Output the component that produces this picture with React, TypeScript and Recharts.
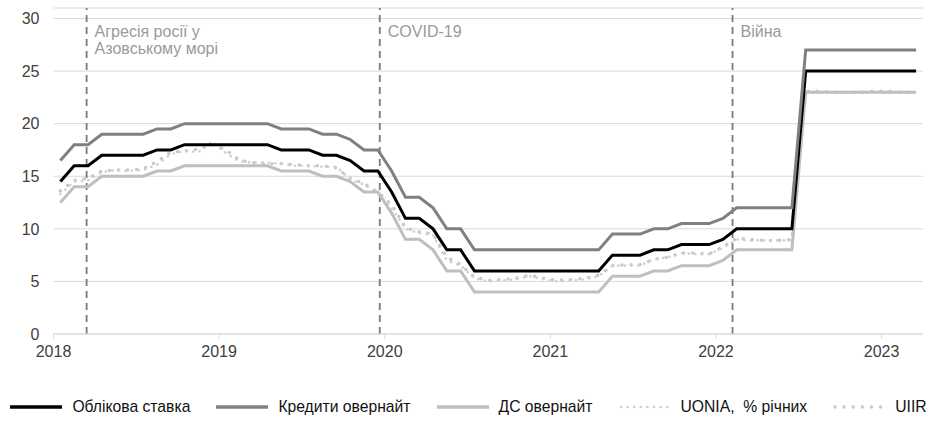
import React from 'react';
import { LineChart, Line, XAxis, YAxis, CartesianGrid, ReferenceLine, Legend } from 'recharts';

// Monthly data, Jan 2018 .. Mar 2023
const startYear = 2018;
const keyRate = [
  14.5, 16, 16, 17, 17, 17, 17, 17.5, 17.5, 18,
  18, 18, 18, 18, 18, 18, 17.5, 17.5, 17.5, 17,
  17, 16.5, 15.5, 15.5, 13.5, 11, 11, 10, 8, 8,
  6, 6, 6, 6, 6, 6, 6, 6, 6, 6,
  7.5, 7.5, 7.5, 8, 8, 8.5, 8.5, 8.5, 9, 10,
  10, 10, 10, 10,
  25, 25, 25, 25, 25, 25, 25, 25, 25,
];
const loanOvernight = [
  16.5, 18, 18, 19, 19, 19, 19, 19.5, 19.5, 20,
  20, 20, 20, 20, 20, 20, 19.5, 19.5, 19.5, 19,
  19, 18.5, 17.5, 17.5, 15.5, 13, 13, 12, 10, 10,
  8, 8, 8, 8, 8, 8, 8, 8, 8, 8,
  9.5, 9.5, 9.5, 10, 10, 10.5, 10.5, 10.5, 11, 12,
  12, 12, 12, 12,
  27, 27, 27, 27, 27, 27, 27, 27, 27,
];
const depositOvernight = [
  12.5, 14, 14, 15, 15, 15, 15, 15.5, 15.5, 16,
  16, 16, 16, 16, 16, 16, 15.5, 15.5, 15.5, 15,
  15, 14.5, 13.5, 13.5, 11.5, 9, 9, 8, 6, 6,
  4, 4, 4, 4, 4, 4, 4, 4, 4, 4,
  5.5, 5.5, 5.5, 6, 6, 6.5, 6.5, 6.5, 7, 8,
  8, 8, 8, 8,
  23, 23, 23, 23, 23, 23, 23, 23, 23,
];
const uonia = [
  13.3, 14.5, 14.6, 15.4, 15.6, 15.5, 15.6, 16.1, 17.1, 17.4,
  17.3, 18.3, 17.2, 16.4, 16.3, 16.3, 16.2, 16.0, 16.0, 15.9,
  15.9, 14.7, 14.2, 13.4, 12.0, 10.0, 9.6, 9.4, 7.0, 6.5,
  5.3, 5.0, 5.1, 5.2, 5.5, 5.2, 5.0, 5.1, 5.2, 5.5,
  6.5, 6.5, 6.5, 7.1, 7.3, 7.7, 7.6, 7.6, 8.2, 9.0,
  8.9, 8.9, 8.9, 8.9,
  23.0, 23.0, 23.0, 23.0, 23.0, 23.0, 23.0, 23.0, 23.0,
];
const uiir = [
  13.6, 14.6, 14.8, 15.5, 15.6, 15.6, 15.7, 16.4, 17.3, 17.4,
  17.6, 18.0, 17.5, 16.5, 16.3, 16.2, 16.2, 16.1, 16.0, 16.0,
  15.8, 14.8, 14.3, 13.5, 12.3, 10.1, 9.7, 9.5, 7.3, 6.6,
  5.4, 5.1, 5.2, 5.3, 5.6, 5.3, 5.1, 5.2, 5.3, 5.6,
  6.5, 6.6, 6.6, 7.1, 7.3, 7.7, 7.7, 7.6, 8.3, 9.1,
  9.0, 8.9, 8.9, 9.0,
  23.1, 23.1, 23.0, 23.0, 23.0, 23.1, 23.1, 23.0, 23.0,
];

const yearTicks = [2018, 2019, 2020, 2021, 2022, 2023];
const valueTicks = [0, 5, 10, 15, 20, 25, 30];
const eventDates = [2018.2, 2019.97, 2022.1];
const eventLabels = [['Агресія росії у', 'Азовському морі'], ['COVID-19'], ['Війна']];

const seriesNames = {
  key: 'Облікова ставка',
  loan: 'Кредити овернайт',
  dep: 'ДС овернайт',
  uonia: 'UONIA,  % річних',
  uiir: 'UIIR',
};

const data = keyRate.map((v, i) => ({
  t: startYear + (i + 0.5) / 12,
  key: v,
  loan: loanOvernight[i],
  dep: depositOvernight[i],
  uonia: uonia[i],
  uiir: uiir[i],
}));

const FONT = '"Liberation Sans", Arial, sans-serif';

const styles: Record<string, { stroke: string; width: number; dash?: string; cap?: 'round' | 'butt' }> = {
  key: { stroke: '#000000', width: 3 },
  loan: { stroke: '#808080', width: 3 },
  dep: { stroke: '#bfbfbf', width: 3 },
  uonia: { stroke: '#cfcfcf', width: 2.6, dash: '0.1 6.5', cap: 'round' },
  uiir: { stroke: '#c9c9c9', width: 3.4, dash: '0.1 9', cap: 'round' },
};

const legendOrder = ['key', 'loan', 'dep', 'uonia', 'uiir'];

const renderLegend = () => (
  <div
    style={{
      display: 'flex',
      justifyContent: 'center',
      alignItems: 'center',
      height: 20,
      fontSize: 15.7,
      color: '#111',
      fontFamily: FONT,
    }}
  >
    {legendOrder.map((k, idx) => {
      const s = styles[k];
      return (
        <div key={k} style={{ display: 'flex', alignItems: 'center', marginLeft: idx ? 26 : 0 }}>
          <svg width={52} height={10}>
            <line
              x1={s.cap === 'round' ? 2 : 0}
              y1={5}
              x2={s.cap === 'round' ? 50 : 52}
              y2={5}
              stroke={s.stroke}
              strokeWidth={s.width + (s.cap ? 0 : 0.5)}
              strokeDasharray={s.dash}
              strokeLinecap={s.cap || 'butt'}
            />
          </svg>
          <span style={{ marginLeft: 10, whiteSpace: 'pre' }}>{(seriesNames as any)[k]}</span>
        </div>
      );
    })}
  </div>
);

const makeLabel = (lines: string[]) => (props: any) => {
  const vb = props.viewBox || {};
  const x = (vb.x || 0) + 8;
  const y = (vb.y || 0) + 29;
  return (
    <text x={x} y={y} fill="#9a9a9a" fontSize={16} fontFamily={FONT}>
      {lines.map((l, i) => (
        <tspan key={i} x={x} dy={i ? 17 : 0}>
          {l}
        </tspan>
      ))}
    </text>
  );
};

export default function App() {
  return (
    <div style={{ position: 'absolute', left: 0, top: 0, width: 937, height: 421, fontFamily: FONT, background: '#fff' }}>
      <LineChart width={937} height={421} data={data} margin={{ top: 8, right: 14, left: 0, bottom: 37 }}>
        <CartesianGrid vertical={false} stroke="#d9d9d9" strokeWidth={1} />
        <XAxis
          dataKey="t"
          type="number"
          domain={[2018, 2023.25]}
          ticks={yearTicks}
          allowDataOverflow
          stroke="#d9d9d9"
          tickSize={5}
          tickMargin={7}
          height={30}
          tick={{ fill: '#404040', fontSize: 16, fontFamily: FONT }}
          tickFormatter={(v: number) => String(v)}
        />
        <YAxis
          domain={[0, 31]}
          ticks={valueTicks}
          allowDataOverflow
          axisLine={false}
          tickLine={false}
          width={53.5}
          tickMargin={8}
          tick={{ fill: '#404040', fontSize: 16, fontFamily: FONT }}
        />
        {eventDates.map((d, i) => (
          <ReferenceLine
            key={i}
            x={d}
            stroke="#7a7a7a"
            strokeWidth={1.8}
            strokeDasharray="7 5"
            label={makeLabel(eventLabels[i])}
          />
        ))}
        {['uiir', 'uonia', 'dep', 'key', 'loan'].map((k) => {
          const s = styles[k];
          return (
            <Line
              key={k}
              dataKey={k}
              name={(seriesNames as any)[k]}
              type="linear"
              stroke={s.stroke}
              strokeWidth={s.width}
              strokeDasharray={s.dash}
              strokeLinecap={s.cap || 'butt'}
              strokeLinejoin="miter"
              dot={false}
              activeDot={false}
              isAnimationActive={false}
            />
          );
        })}
        <Legend verticalAlign="bottom" content={renderLegend} wrapperStyle={{ bottom: 4, left: 0, width: 937 }} />
      </LineChart>
    </div>
  );
}
